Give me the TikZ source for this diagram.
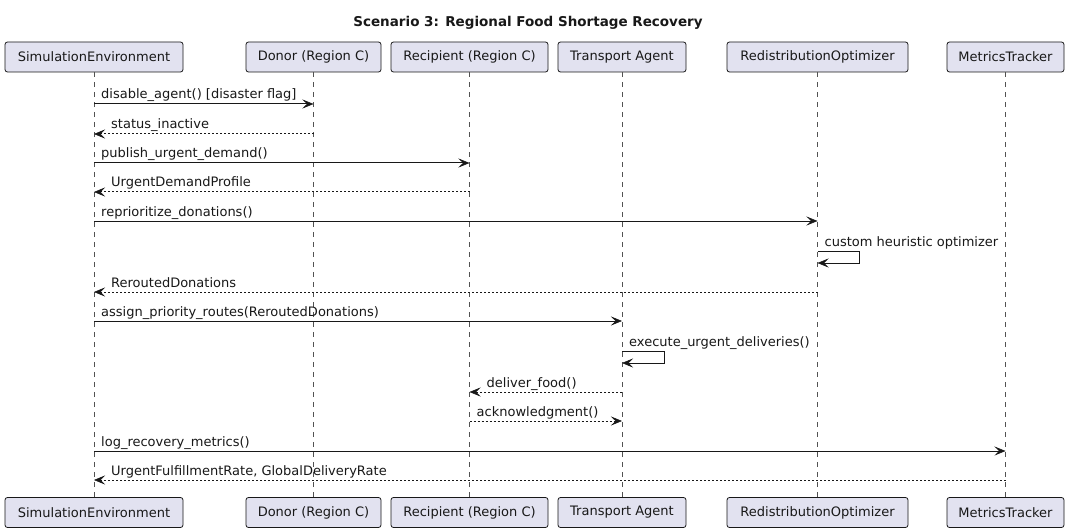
\documentclass[tikz,border=0pt]{standalone}
\usepackage{fontspec}
\setmainfont{DejaVu Sans}
\usetikzlibrary{arrows.meta}
\definecolor{boxfill}{HTML}{E2E2F0}
\definecolor{ink}{HTML}{181818}
\tikzset{
  part/.style={draw=ink, fill=boxfill, rounded corners=2.5pt, line width=0.8pt,
    minimum height=30pt, inner sep=0pt, font=\fontsize{13}{15}\selectfont, text=ink},
  life/.style={draw=ink!75, line width=0.6pt, dash pattern=on 5pt off 5pt},
  call/.style={draw=ink, line width=1pt, -{Stealth[length=11pt,width=9pt,inset=4.5pt,line width=0.6pt]}},
  ret/.style={call, dash pattern=on 2pt off 2pt},
  lbl/.style={anchor=base west, inner sep=0pt, font=\fontsize{13}{15}\selectfont, text=ink},
}
\begin{document}
\begin{tikzpicture}[x=1pt, y=-1pt]
\useasboundingbox[fill=white] (0,0) rectangle (1069,532);
\node[font=\bfseries\fontsize{13.5}{16}\selectfont, anchor=base, text=ink] (title) at (528,27) {Scenario 3: Regional Food Shortage Recovery};
% participants (top)
\node[part, minimum width=178pt] (se) at (94,57) {SimulationEnvironment};
\node[part, minimum width=135pt] (dn) at (313.5,57) {Donor (Region C)};
\node[part, minimum width=157pt] (rc) at (469.5,57) {Recipient (Region C)};
\node[part, minimum width=128pt] (tr) at (622,57) {Transport Agent};
\node[part, minimum width=181pt] (ro) at (817.5,57) {RedistributionOptimizer};
\node[part, minimum width=117pt] (mt) at (1005.5,57) {MetricsTracker};
% participants (bottom)
\node[part, minimum width=178pt] (seB) at (94,512.5) {SimulationEnvironment};
\node[part, minimum width=135pt] (dnB) at (313.5,512.5) {Donor (Region C)};
\node[part, minimum width=157pt] (rcB) at (469.5,512.5) {Recipient (Region C)};
\node[part, minimum width=128pt] (trB) at (622,512.5) {Transport Agent};
\node[part, minimum width=181pt] (roB) at (817.5,512.5) {RedistributionOptimizer};
\node[part, minimum width=117pt] (mtB) at (1005.5,512.5) {MetricsTracker};
% lifelines
\foreach \p in {se,dn,rc,tr,ro,mt}{\draw[life] (\p.south) -- (\p B.north);}
% message rows
\coordinate (y1) at (0,104);
\coordinate (y2) at (0,134);
\coordinate (y3) at (0,163);
\coordinate (y4) at (0,192);
\coordinate (y5) at (0,221);
\coordinate (y6a) at (0,251);
\coordinate (y6b) at (0,263);
\coordinate (y7) at (0,292);
\coordinate (y8) at (0,321);
\coordinate (y9a) at (0,351);
\coordinate (y9b) at (0,363);
\coordinate (y10) at (0,392);
\coordinate (y11) at (0,421);
\coordinate (y12) at (0,451);
\coordinate (y13) at (0,480);
% messages
\draw[call] (se |- y1) -- (dn |- y1);
\node[lbl] (l1) at ([xshift=7pt,yshift=5pt]se |- y1) {disable\_agent() [disaster flag]};
\draw[ret] (dn |- y2) -- (se |- y2);
\node[lbl] (l2) at ([xshift=17pt,yshift=5pt]se |- y2) {status\_inactive};
\draw[call] (se |- y3) -- (rc |- y3);
\node[lbl] (l3) at ([xshift=7pt,yshift=5pt]se |- y3) {publish\_urgent\_demand()};
\draw[ret] (rc |- y4) -- (se |- y4);
\node[lbl] (l4) at ([xshift=17pt,yshift=5pt]se |- y4) {UrgentDemandProfile};
\draw[call] (se |- y5) -- (ro |- y5);
\node[lbl] (l5) at ([xshift=7pt,yshift=5pt]se |- y5) {reprioritize\_donations()};
\draw[call] (ro |- y6a) -- ([xshift=42pt]ro |- y6a) |- (ro |- y6b);
\node[lbl] (l6) at ([xshift=7pt,yshift=5pt]ro |- y6a) {custom heuristic optimizer};
\draw[ret] (ro |- y7) -- (se |- y7);
\node[lbl] (l7) at ([xshift=17pt,yshift=5pt]se |- y7) {ReroutedDonations};
\draw[call] (se |- y8) -- (tr |- y8);
\node[lbl] (l8) at ([xshift=7pt,yshift=5pt]se |- y8) {assign\_priority\_routes(ReroutedDonations)};
\draw[call] (tr |- y9a) -- ([xshift=42pt]tr |- y9a) |- (tr |- y9b);
\node[lbl] (l9) at ([xshift=7pt,yshift=5pt]tr |- y9a) {execute\_urgent\_deliveries()};
\draw[ret] (tr |- y10) -- (rc |- y10);
\node[lbl] (l10) at ([xshift=17pt,yshift=5pt]rc |- y10) {deliver\_food()};
\draw[ret] (rc |- y11) -- (tr |- y11);
\node[lbl] (l11) at ([xshift=7pt,yshift=5pt]rc |- y11) {acknowledgment()};
\draw[call] (se |- y12) -- (mt |- y12);
\node[lbl] (l12) at ([xshift=7pt,yshift=5pt]se |- y12) {log\_recovery\_metrics()};
\draw[ret] (mt |- y13) -- (se |- y13);
\node[lbl] (l13) at ([xshift=17pt,yshift=5pt]se |- y13) {UrgentFulfillmentRate, GlobalDeliveryRate};
\end{tikzpicture}
\end{document}
